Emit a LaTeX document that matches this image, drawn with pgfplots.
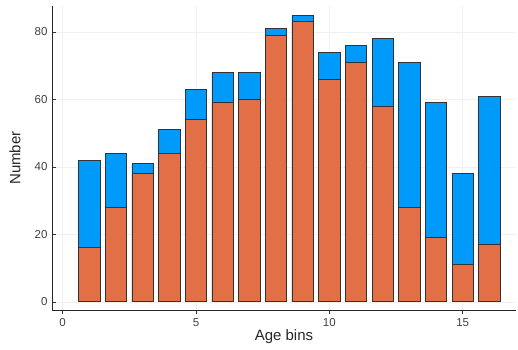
\documentclass[border=0pt]{standalone}
\usepackage{pgfplots}
\pgfplotsset{compat=1.18}
\usepackage{fontspec}
\setmainfont{Liberation Sans}
\definecolor{jblue}{HTML}{009AFA}
\definecolor{jorange}{HTML}{E26F46}
\begin{document}
\begin{tikzpicture}
\begin{axis}[
  width=464pt, height=304pt, scale only axis=true,
  xmin=-0.4, xmax=17.0, ymin=-2.4, ymax=87.7,
  axis x line*=bottom, axis y line*=left,
  axis line style={black!85, line width=0.9pt},
  xtick={0,5,10,15}, ytick={0,20,40,60,80},
  tick align=inside, major tick length=4pt,
  tick style={black!80, line width=0.6pt},
  grid=major, grid style={black!6, line width=0.5pt},
  ticklabel style={font=\fontsize{11.5}{13}\selectfont, text=black!75},
  /pgf/number format/assume math mode=true,
  xticklabel style={yshift=-1pt},
  yticklabel style={xshift=-1pt},
  xlabel={Age bins}, ylabel={Number},
  label style={font=\fontsize{15}{17}\selectfont, text=black!85},
  xlabel style={at={(rel axis cs:0.5,0)}, anchor=center, yshift=-27pt},
  ylabel style={at={(rel axis cs:0,0.5)}, anchor=center, yshift=37pt},
  ybar, bar width=0.8, bar shift=0pt,
]
\addplot[fill=jblue, draw=black!80, line width=0.9pt] coordinates {
(1,42) (2,44) (3,41) (4,51) (5,63) (6,68) (7,68) (8,81)
(9,85) (10,74) (11,76) (12,78) (13,71) (14,59) (15,38) (16,61)};
\addplot[fill=jorange, draw=black!80, line width=0.9pt] coordinates {
(1,16) (2,28) (3,38) (4,44) (5,54) (6,59) (7,60) (8,79)
(9,83) (10,66) (11,71) (12,58) (13,28) (14,19) (15,11) (16,17)};
\coordinate (ll) at (rel axis cs:0,0);
\coordinate (ur) at (rel axis cs:1,1);
\end{axis}
\pgfresetboundingbox
\path ([shift={(-52pt,-40pt)}]ll) rectangle ([shift={(2pt,6pt)}]ur);
\end{tikzpicture}
\end{document}
